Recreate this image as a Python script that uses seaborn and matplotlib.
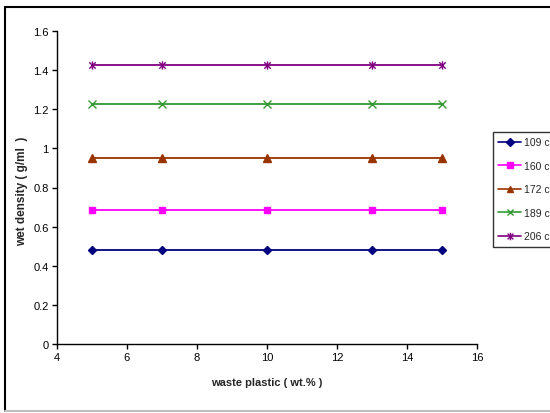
import matplotlib
matplotlib.use("Agg")
import matplotlib.pyplot as plt
from matplotlib.path import Path
from matplotlib.lines import Line2D
import seaborn as sns
import pandas as pd

# waste plastic content (wt.%)
waste_plastic = [5, 7, 10, 13, 15]
# wet density (g/ml) per temperature
temps = ["109 c", "160 c", "172 c", "189 c", "206 c"]
density_109 = [0.48, 0.48, 0.48, 0.48, 0.48]
density_160 = [0.685, 0.685, 0.685, 0.685, 0.685]
density_172 = [0.95, 0.95, 0.95, 0.95, 0.95]
density_189 = [1.225, 1.225, 1.225, 1.225, 1.225]
density_206 = [1.425, 1.425, 1.425, 1.425, 1.425]
x_ticks = [4, 6, 8, 10, 12, 14, 16]
y_ticks = [0, 0.2, 0.4, 0.6, 0.8, 1, 1.2, 1.4, 1.6]
y_tick_labels = ["0", "0.2", "0.4", "0.6", "0.8", "1", "1.2", "1.4", "1.6"]

series = [density_109, density_160, density_172, density_189, density_206]
df = pd.DataFrame({
    "waste": waste_plastic * len(temps),
    "density": [v for s in series for v in s],
    "temp": [t for t in temps for _ in waste_plastic],
})

# star marker: an x crossed by a vertical bar
star = Path([(-1, -1), (1, 1), (-1, 1), (1, -1), (0, -1.3), (0, 1.3)],
            [Path.MOVETO, Path.LINETO, Path.MOVETO, Path.LINETO, Path.MOVETO, Path.LINETO])

palette = dict(zip(temps, ["#000080", "#FF00FF", "#993300", "#339933", "#800080"]))
markers = dict(zip(temps, ["D", "s", "^", "x", star]))
sizes = dict(zip(temps, [4.5, 4.8, 5.2, 5.2, 6]))

sns.set_style("white")
plt.rcParams["font.family"] = ["Liberation Sans", "DejaVu Sans"]

W, H = 550, 414
fig = plt.figure(figsize=(W / 100, H / 100), dpi=100)
ax = fig.add_axes([57 / W, 1 - 345 / H, (477 - 57) / W, (345 - 32) / H])

for t in temps:
    sub = df[df["temp"] == t]
    sns.lineplot(data=sub, x="waste", y="density", ax=ax, color=palette[t],
                 marker=markers[t], markersize=sizes[t], markeredgewidth=1.0,
                 markeredgecolor=palette[t], markerfacecolor=palette[t],
                 linewidth=1.3, legend=False)

ax.set_xlim(4, 16)
ax.set_ylim(0, 1.6)
ax.set_xticks(x_ticks)
ax.set_xticklabels([str(v) for v in x_ticks])
ax.set_yticks(y_ticks)
ax.set_yticklabels(y_tick_labels)
ax.tick_params(axis="both", direction="out", length=3.5, width=1, colors="black",
               labelsize=8, bottom=True, left=True, pad=2.5)
for side in ["top", "right"]:
    ax.spines[side].set_visible(False)
for side in ["left", "bottom"]:
    ax.spines[side].set_color("black")
    ax.spines[side].set_linewidth(1.0)

ax.set_xlabel("waste plastic ( wt.% )", fontsize=8, fontweight="bold")
ax.xaxis.set_label_coords(0.5, -(383 - 345) / (345 - 32), transform=ax.transAxes)
ax.xaxis.label.set_va("center")
ax.set_ylabel("wet density ( g/ml  )", fontsize=8.5, fontweight="bold")
ax.yaxis.set_label_coords(-(57 - 22) / (477 - 57), (345 - 191) / (345 - 32), transform=ax.transAxes)
ax.yaxis.label.set_va("center")

handles = [Line2D([0], [0], color=palette[t], marker=markers[t], markersize=sizes[t] * 0.9,
                  markeredgewidth=1.0, markeredgecolor=palette[t], linewidth=1.2) for t in temps]
leg = fig.legend(handles, temps, loc="upper left", bbox_to_anchor=(493 / W, 1 - 133 / H),
                 frameon=True, fancybox=False, edgecolor="black", fontsize=7.5,
                 handlelength=2.2, handletextpad=0.25, labelspacing=1.3,
                 borderpad=0.5, borderaxespad=0)
leg.get_frame().set_linewidth(1.0)

# outer frame around the chart area
fig.add_artist(Line2D([4.5 / W, 4.5 / W], [1 - 8 / H, 1 - 412 / H],
                      transform=fig.transFigure, color="black", linewidth=1.5))
fig.add_artist(Line2D([4.5 / W, 1.0], [1 - 8 / H, 1 - 8 / H],
                      transform=fig.transFigure, color="black", linewidth=1.5))
fig.add_artist(Line2D([4.5 / W, 1.0], [1 - 412 / H, 1 - 412 / H],
                      transform=fig.transFigure, color="#c0c0c0", linewidth=1.5))

fig.savefig("out.png", dpi=100)
